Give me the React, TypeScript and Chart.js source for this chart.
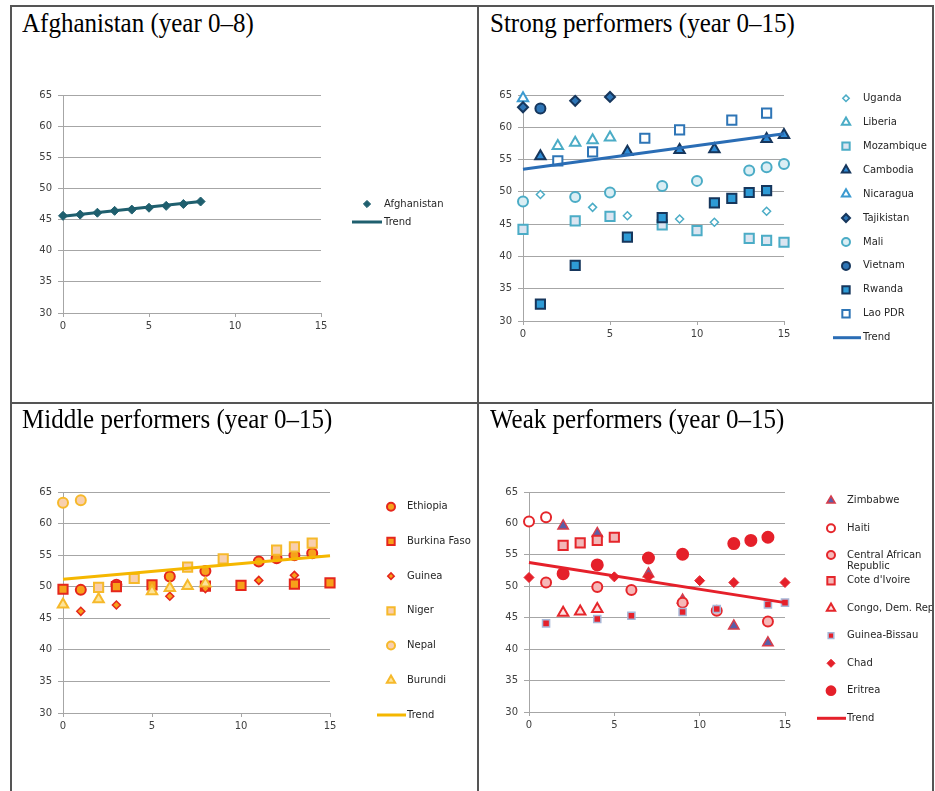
import React, { useEffect, useRef } from 'react';
import { Chart, registerables } from 'chart.js';
import { drawPoint } from 'chart.js/helpers';

Chart.register(...registerables);

// ---------------- data ----------------
const yRange = [30, 65];
const xRange = [0, 15];
const yStep = 5;
const xStep = 5;

// Afghanistan (year 0–8)
const afghanistanYears = [0, 1, 2, 3, 4, 5, 6, 7, 8];
const afghanistanValues = [45.6, 45.8, 46.1, 46.4, 46.6, 46.9, 47.2, 47.5, 47.9];
const afghanistanTrendYears = [0, 8];
const afghanistanTrendValues = [45.55, 47.9];

// Strong performers
const ugandaYears = [1, 4, 6, 9, 11, 14];
const ugandaValues = [49.6, 47.6, 46.3, 45.8, 45.3, 47.0];
const liberiaYears = [2, 3, 4, 5];
const liberiaValues = [57.1, 57.6, 58.0, 58.4];
const mozambiqueYears = [0, 3, 5, 8, 10, 13, 14, 15];
const mozambiqueValues = [44.2, 45.5, 46.2, 44.9, 44.0, 42.8, 42.5, 42.2];
const cambodiaYears = [1, 6, 9, 11, 14, 15];
const cambodiaValues = [55.5, 56.2, 56.5, 56.6, 58.2, 58.8];
const nicaraguaYears = [0];
const nicaraguaValues = [64.5];
const tajikistanYears = [0, 3, 5];
const tajikistanValues = [63.1, 64.1, 64.7];
const maliYears = [0, 3, 5, 8, 10, 13, 14, 15];
const maliValues = [48.5, 49.2, 49.9, 50.9, 51.7, 53.3, 53.8, 54.3];
const vietnamYears = [1];
const vietnamValues = [62.9];
const rwandaYears = [1, 3, 6, 8, 11, 12, 13, 14];
const rwandaValues = [32.6, 38.6, 43.0, 46.0, 48.3, 49.0, 49.9, 50.2];
const laoYears = [2, 4, 7, 9, 12, 14];
const laoValues = [54.8, 56.2, 58.3, 59.6, 61.1, 62.2];
const strongTrendYears = [0, 15];
const strongTrendValues = [53.5, 59.0];

// Middle performers
const ethiopiaYears = [1, 3, 6, 8, 11, 12, 13, 14];
const ethiopiaValues = [49.5, 50.3, 51.6, 52.5, 54.0, 54.5, 55.0, 55.3];
const burkinaYears = [0, 3, 5, 8, 10, 13, 15];
const burkinaValues = [49.6, 50.0, 50.3, 50.1, 50.2, 50.4, 50.6];
const guineaYears = [1, 3, 6, 8, 11, 13];
const guineaValues = [46.1, 47.1, 48.5, 49.7, 51.0, 51.8];
const nigerYears = [2, 4, 7, 9, 12, 13, 14];
const nigerValues = [49.9, 51.3, 53.1, 54.4, 55.8, 56.3, 56.9];
const nepalYears = [0, 1];
const nepalValues = [63.3, 63.7];
const burundiYears = [0, 2, 5, 6, 7, 8];
const burundiValues = [47.2, 48.0, 49.3, 49.8, 50.1, 50.5];
const middleTrendYears = [0, 15];
const middleTrendValues = [51.2, 54.9];

// Weak performers
const zimbabweYears = [2, 4, 7, 9, 12, 14];
const zimbabweValues = [59.6, 58.4, 52.0, 47.8, 43.7, 41.0];
const haitiYears = [0, 1];
const haitiValues = [60.3, 61.0];
const carYears = [1, 4, 6, 9, 11, 14];
const carValues = [50.6, 49.9, 49.4, 47.4, 46.1, 44.4];
const coteYears = [2, 3, 4, 5];
const coteValues = [56.5, 56.9, 57.3, 57.8];
const congoYears = [2, 3, 4];
const congoValues = [45.8, 46.0, 46.4];
const guineaBissauYears = [1, 4, 6, 9, 11, 14, 15];
const guineaBissauValues = [44.1, 44.8, 45.3, 45.9, 46.4, 47.1, 47.4];
const chadYears = [0, 2, 5, 7, 10, 12, 15];
const chadValues = [51.4, 51.8, 51.5, 51.5, 50.9, 50.6, 50.6];
const eritreaYears = [2, 4, 7, 9, 12, 13, 14];
const eritreaValues = [52.0, 53.4, 54.5, 55.1, 56.8, 57.3, 57.8];
const weakTrendYears = [0, 15];
const weakTrendValues = [53.8, 47.4];

// ---------------- helpers ----------------
const pts = (xs: number[], ys: number[]) => xs.map((x, i) => ({ x, y: ys[i] }));

function marker(label: string, xs: number[], ys: number[], style: string, radius: number, fill: string, stroke: string, bw = 2) {
  return {
    label,
    data: pts(xs, ys),
    pointStyle: style,
    pointRadius: radius,
    pointBackgroundColor: fill,
    pointBorderColor: stroke,
    pointBorderWidth: bw,
    showLine: false,
    clip: false,
  };
}

function trend(xs: number[], ys: number[], color: string) {
  return {
    label: 'Trend',
    data: pts(xs, ys),
    showLine: true,
    borderColor: color,
    borderWidth: 3,
    pointRadius: 0,
    clip: false,
  };
}

const GRID = '#a6a6a6';
const TICK = '#404040';
const FONT = 'DejaVu Sans';

type Rect = { left: number; top: number; width: number; height: number };
type Plot = { left: number; top: number; right: number; bottom: number };
type Legend = { markerX: number; lineX1: number; lineX2: number; textX: number; ys: number[]; wrap?: Record<string, string[]> };

function makeLegendPlugin(cfg: Legend, canvas: Rect) {
  return {
    id: 'sideLegend',
    afterDraw(chart: any) {
      const ctx = chart.ctx;
      ctx.save();
      ctx.font = `10px "${FONT}"`;
      ctx.textBaseline = 'middle';
      ctx.textAlign = 'left';
      chart.data.datasets.forEach((ds: any, i: number) => {
        const y = cfg.ys[i] - canvas.top;
        if (ds.showLine) {
          ctx.strokeStyle = ds.borderColor;
          ctx.lineWidth = ds.borderWidth;
          ctx.beginPath();
          ctx.moveTo(cfg.lineX1 - canvas.left, y);
          ctx.lineTo(cfg.lineX2 - canvas.left, y);
          ctx.stroke();
        } else {
          ctx.fillStyle = ds.pointBackgroundColor;
          ctx.strokeStyle = ds.pointBorderColor;
          ctx.lineWidth = ds.pointBorderWidth;
          drawPoint(ctx, { pointStyle: ds.pointStyle, rotation: 0, radius: ds.pointRadius * 0.8, borderWidth: ds.pointBorderWidth } as any, cfg.markerX - canvas.left, y);
        }
        const lines = (cfg.wrap && cfg.wrap[ds.label]) || [ds.label];
        ctx.fillStyle = '#262626';
        lines.forEach((t: string, k: number) => ctx.fillText(t, cfg.textX - canvas.left, y + k * 11.5));
      });
      ctx.restore();
    },
  };
}

function ChartPanel({ canvas, plot, datasets, legend }: { canvas: Rect; plot: Plot; datasets: any[]; legend: Legend }) {
  const ref = useRef<HTMLCanvasElement | null>(null);
  useEffect(() => {
    if (!ref.current) return;
    const yW = plot.left - canvas.left;
    const xH = 22;
    const padTop = plot.top - canvas.top;
    const padRight = canvas.width - (plot.right - canvas.left);
    const padBottom = canvas.height - (plot.bottom - canvas.top) - xH;
    const ds = datasets.map((d, i) => ({ ...d, order: -i }));
    const chart = new Chart(ref.current, {
      type: 'scatter',
      data: { datasets: ds },
      plugins: [makeLegendPlugin(legend, canvas)],
      options: {
        responsive: false,
        animation: false,
        layout: { padding: { left: 0, top: padTop, right: padRight, bottom: padBottom } },
        plugins: { legend: { display: false }, tooltip: { enabled: false } },
        scales: {
          x: {
            type: 'linear',
            min: xRange[0],
            max: xRange[1],
            ticks: { stepSize: xStep, color: TICK, font: { family: FONT, size: 10 }, padding: 3, maxRotation: 0 },
            grid: { drawOnChartArea: false, drawTicks: true, tickLength: 4, color: GRID },
            border: { display: true, color: GRID },
            afterFit: (s: any) => { s.height = xH; },
          },
          y: {
            type: 'linear',
            min: yRange[0],
            max: yRange[1],
            ticks: { stepSize: yStep, color: TICK, font: { family: FONT, size: 10 }, padding: 6 },
            grid: { color: GRID, tickLength: 5 },
            border: { display: true, color: GRID },
            afterFit: (s: any) => { s.width = yW; },
          },
        },
      } as any,
    } as any);
    return () => chart.destroy();
  }, []);
  return (
    <canvas
      ref={ref}
      width={canvas.width}
      height={canvas.height}
      style={{ position: 'absolute', left: canvas.left, top: canvas.top, width: canvas.width, height: canvas.height }}
    />
  );
}

const titleStyle = (left: number, top: number): React.CSSProperties => ({
  position: 'absolute',
  left,
  top,
  fontFamily: '"Liberation Serif", "Times New Roman", serif',
  fontSize: 25,
  lineHeight: '25px',
  color: '#000',
  whiteSpace: 'nowrap',
  transform: 'scaleY(1.1)',
  transformOrigin: 'left top',
});

const line = (left: number, top: number, width: number, height: number): React.CSSProperties => ({
  position: 'absolute', left, top, width, height, background: '#555',
});

export default function App() {
  const afghanDatasets = [
    marker('Afghanistan', afghanistanYears, afghanistanValues, 'rectRot', 4.5, '#1f5f6e', '#1f5f6e', 1),
    trend(afghanistanTrendYears, afghanistanTrendValues, '#1f5f6e'),
  ];
  const strongDatasets = [
    marker('Uganda', ugandaYears, ugandaValues, 'rectRot', 4, '#ffffff', '#4bacc6', 1.5),
    marker('Liberia', liberiaYears, liberiaValues, 'triangle', 6, '#ffffff', '#4bacc6', 2),
    marker('Mozambique', mozambiqueYears, mozambiqueValues, 'rect', 6.5, '#dbe5f1', '#4bacc6', 2),
    marker('Cambodia', cambodiaYears, cambodiaValues, 'triangle', 6, '#2e8bd6', '#16365c', 2),
    marker('Nicaragua', nicaraguaYears, nicaraguaValues, 'triangle', 6, '#ffffff', '#3b9ad0', 2),
    marker('Tajikistan', tajikistanYears, tajikistanValues, 'rectRot', 5, '#2e75b6', '#16365c', 2),
    marker('Mali', maliYears, maliValues, 'circle', 5, '#dbeef4', '#4bacc6', 2),
    marker('Vietnam', vietnamYears, vietnamValues, 'circle', 5, '#2e75b6', '#16365c', 2),
    marker('Rwanda', rwandaYears, rwandaValues, 'rect', 6.5, '#2e9bd6', '#16365c', 2),
    marker('Lao PDR', laoYears, laoValues, 'rect', 6.5, '#ffffff', '#2e75b6', 2),
    trend(strongTrendYears, strongTrendValues, '#2a6db5'),
  ];
  const middleDatasets = [
    marker('Ethiopia', ethiopiaYears, ethiopiaValues, 'circle', 5, '#f7a11a', '#e5261c', 2),
    marker('Burkina Faso', burkinaYears, burkinaValues, 'rect', 6.5, '#f7a11a', '#e5261c', 2),
    marker('Guinea', guineaYears, guineaValues, 'rectRot', 4, '#f7a11a', '#e5261c', 1.5),
    marker('Niger', nigerYears, nigerValues, 'rect', 6.5, '#f8cfae', '#f6b92b', 2),
    marker('Nepal', nepalYears, nepalValues, 'circle', 5, '#f8cfae', '#f6b92b', 2),
    marker('Burundi', burundiYears, burundiValues, 'triangle', 6, '#fde49a', '#f6b92b', 2),
    trend(middleTrendYears, middleTrendValues, '#f5b700'),
  ];
  const weakDatasets = [
    marker('Zimbabwe', zimbabweYears, zimbabweValues, 'triangle', 6, '#5a5fa8', '#d83c4a', 1.5),
    marker('Haiti', haitiYears, haitiValues, 'circle', 5, '#ffffff', '#e5262b', 2),
    marker('Central African Republic', carYears, carValues, 'circle', 5, '#f6b8b8', '#e5262b', 2),
    marker("Cote d'Ivoire", coteYears, coteValues, 'rect', 6.5, '#f2b7b7', '#e5262b', 2),
    marker('Congo, Dem. Rep.', congoYears, congoValues, 'triangle', 6, '#fde0e0', '#e5262b', 2),
    marker('Guinea-Bissau', guineaBissauYears, guineaBissauValues, 'rect', 5, '#e5202a', '#a7b7d7', 1.5),
    marker('Chad', chadYears, chadValues, 'rectRot', 5, '#e5202a', '#e5202a', 1),
    marker('Eritrea', eritreaYears, eritreaValues, 'circle', 5.5, '#e5202a', '#e5202a', 2),
    trend(weakTrendYears, weakTrendValues, '#e5202a'),
  ];

  const evenly = (a: number, b: number, n: number) => Array.from({ length: n }, (_, i) => a + ((b - a) * i) / (n - 1));

  return (
    <div style={{ position: 'absolute', left: 0, top: 0, width: 935, height: 791, background: '#fff', overflow: 'hidden' }}>
      <ChartPanel
        canvas={{ left: 12, top: 40, width: 465, height: 362 }}
        plot={{ left: 63, top: 95, right: 321, bottom: 313 }}
        datasets={afghanDatasets}
        legend={{ markerX: 367, lineX1: 352, lineX2: 382, textX: 384, ys: [204, 222] }}
      />
      <ChartPanel
        canvas={{ left: 479, top: 40, width: 453, height: 362 }}
        plot={{ left: 523, top: 95, right: 784, bottom: 321 }}
        datasets={strongDatasets}
        legend={{ markerX: 846, lineX1: 833, lineX2: 861, textX: 863, ys: evenly(98.3, 337.7, 11) }}
      />
      <ChartPanel
        canvas={{ left: 12, top: 405, width: 465, height: 386 }}
        plot={{ left: 63, top: 492, right: 330, bottom: 713 }}
        datasets={middleDatasets}
        legend={{ markerX: 391, lineX1: 377, lineX2: 406, textX: 407, ys: evenly(506.7, 715, 7) }}
      />
      <ChartPanel
        canvas={{ left: 479, top: 405, width: 453, height: 386 }}
        plot={{ left: 529, top: 492, right: 785, bottom: 712 }}
        datasets={weakDatasets}
        legend={{
          markerX: 831, lineX1: 817, lineX2: 846, textX: 847,
          ys: [500.7, 528.3, 555, 580.7, 608.3, 635.7, 663.3, 690.7, 718.3],
          wrap: { 'Central African Republic': ['Central African', 'Republic'] },
        }}
      />
      <div style={line(10, 5, 924, 2)} />
      <div style={line(10, 5, 2, 786)} />
      <div style={line(932, 5, 2, 786)} />
      <div style={line(477, 5, 2, 786)} />
      <div style={line(10, 402, 924, 2)} />
      <div style={titleStyle(22, 9)}>Afghanistan (year 0–8)</div>
      <div style={titleStyle(490, 9)}>Strong performers (year 0–15)</div>
      <div style={titleStyle(22, 405)}>Middle performers (year 0–15)</div>
      <div style={titleStyle(490, 405)}>Weak performers (year 0–15)</div>
    </div>
  );
}
